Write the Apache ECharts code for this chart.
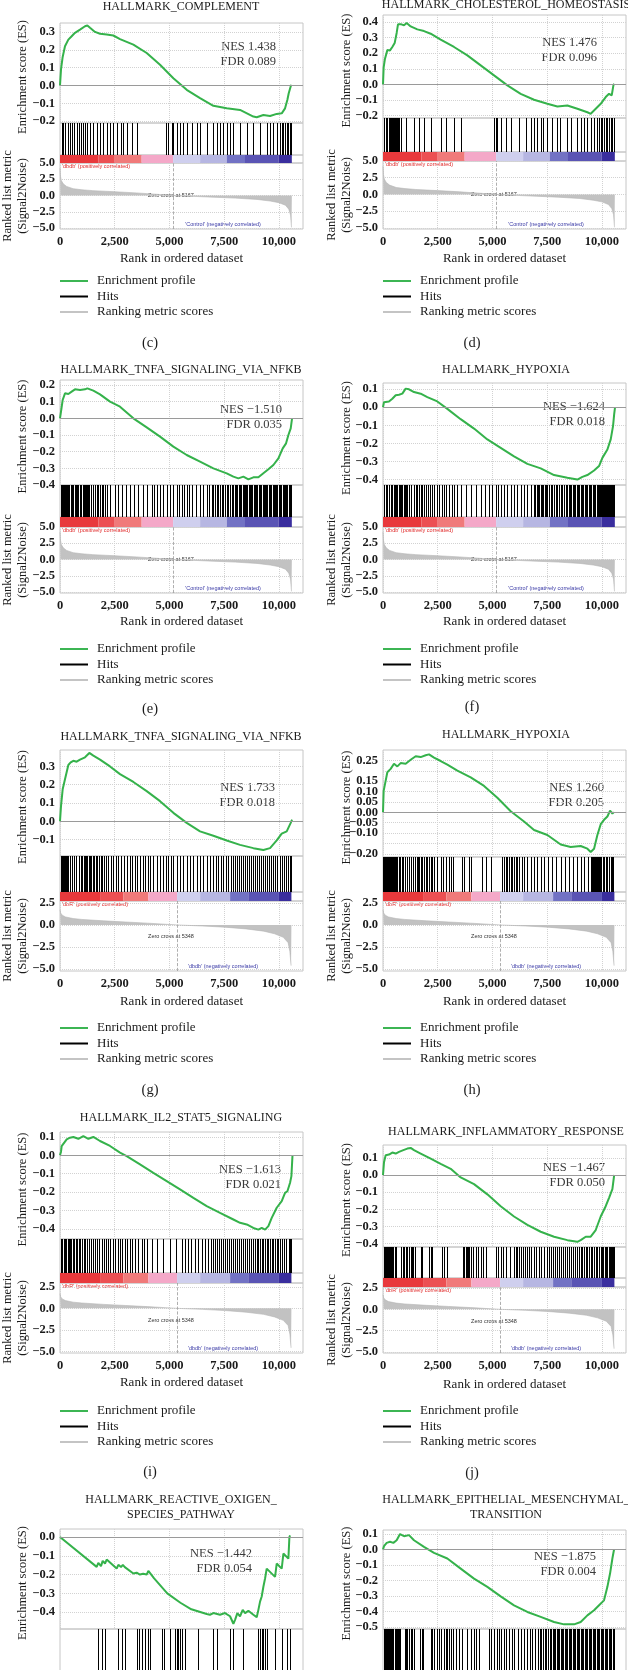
<!DOCTYPE html>
<html>
<head>
<meta charset="utf-8">
<script src="https://cdn.jsdelivr.net/npm/echarts@6/dist/echarts.min.js"></script>
<style>
    html, body { margin: 0; padding: 0; background: #fff; }
    #chart { width: 628px; height: 1670px; }
</style>
</head>
<body>
<div id="chart"></div>
<script>
const chart = echarts.init(document.getElementById("chart"), null, { renderer: "canvas" });

// ---------- data ----------
const xTicks = [0, 2500, 5000, 7500, 10000];
const legendNames = ["Enrichment profile", "Hits", "Ranking metric scores"];

const panelTitles = [
    ["HALLMARK_COMPLEMENT"],
    ["HALLMARK_CHOLESTEROL_HOMEOSTASIS"],
    ["HALLMARK_TNFA_SIGNALING_VIA_NFKB"],
    ["HALLMARK_HYPOXIA"],
    ["HALLMARK_TNFA_SIGNALING_VIA_NFKB"],
    ["HALLMARK_HYPOXIA"],
    ["HALLMARK_IL2_STAT5_SIGNALING"],
    ["HALLMARK_INFLAMMATORY_RESPONSE"],
    ["HALLMARK_REACTIVE_OXIGEN_", "SPECIES_PATHWAY"],
    ["HALLMARK_EPITHELIAL_MESENCHYMAL_", "TRANSITION"]
];
const panelLetters = ["(c)", "(d)", "(e)", "(f)", "(g)", "(h)", "(i)", "(j)"];
const nesValues = ["1.438", "1.476", "−1.510", "−1.624", "1.733", "1.260", "−1.613", "−1.467", "−1.442", "−1.875"];
const fdrValues = ["0.089", "0.096", "0.035", "0.018", "0.018", "0.205", "0.021", "0.050", "0.054", "0.004"];

// running enrichment score, [rank, ES]
const esC = [[0,0],[46,0.09],[122,0.16],[228,0.22],[381,0.257],[533,0.276],[685,0.295],[914,0.313],[1142,0.332],[1249,0.336],[1371,0.323],[1599,0.30],[1828,0.29],[2132,0.285],[2437,0.28],[2741,0.26],[3351,0.229],[3960,0.182],[4569,0.116],[5178,0.041],[5787,-0.024],[6397,-0.071],[7006,-0.114],[7615,-0.128],[8224,-0.137],[8833,-0.174],[8986,-0.178],[9290,-0.165],[9595,-0.171],[9899,-0.159],[10128,-0.156],[10280,-0.128],[10387,-0.08],[10448,-0.043],[10560,0.004]];
const esD = [[0,0],[30,0.11],[91,0.165],[198,0.22],[320,0.218],[426,0.24],[533,0.265],[624,0.33],[685,0.385],[838,0.385],[960,0.379],[1081,0.394],[1264,0.372],[1569,0.353],[1873,0.342],[2178,0.325],[2635,0.287],[3244,0.24],[3853,0.186],[4462,0.122],[5072,0.058],[5681,-0.006],[6290,-0.06],[6899,-0.098],[7508,-0.124],[7965,-0.141],[8422,-0.135],[8879,-0.156],[9336,-0.178],[9488,-0.188],[9717,-0.156],[9945,-0.124],[10173,-0.081],[10326,-0.06],[10448,-0.07],[10524,-0.006],[10560,0.004]];
const esE = [[0,0],[46,0.04],[122,0.11],[228,0.15],[381,0.146],[533,0.16],[685,0.174],[914,0.17],[1142,0.174],[1249,0.18],[1523,0.166],[1828,0.144],[2284,0.10],[2741,0.07],[3351,0.0],[3960,-0.054],[4569,-0.11],[5178,-0.17],[5787,-0.22],[6397,-0.26],[7006,-0.30],[7615,-0.33],[7920,-0.35],[8148,-0.36],[8377,-0.35],[8605,-0.366],[8833,-0.354],[9062,-0.354],[9290,-0.33],[9519,-0.306],[9747,-0.28],[9976,-0.24],[10174,-0.18],[10326,-0.15],[10433,-0.10],[10539,-0.06],[10600,0.0]];
const esF = [[0,0],[46,0.028],[122,0.038],[274,0.032],[426,0.047],[579,0.066],[731,0.069],[883,0.075],[1036,0.103],[1188,0.099],[1416,0.084],[1721,0.075],[2025,0.056],[2482,0.032],[2939,-0.009],[3548,-0.066],[4158,-0.118],[4767,-0.178],[5376,-0.225],[5985,-0.272],[6595,-0.313],[7204,-0.338],[7813,-0.375],[8422,-0.39],[8879,-0.40],[9108,-0.385],[9336,-0.375],[9641,-0.35],[9869,-0.325],[10021,-0.28],[10250,-0.234],[10402,-0.178],[10509,-0.103],[10560,-0.038],[10600,0.0]];
const esG = [[0,0],[46,0.083],[122,0.175],[228,0.23],[381,0.308],[487,0.322],[609,0.331],[761,0.326],[914,0.337],[1142,0.35],[1340,0.374],[1523,0.359],[1828,0.337],[2284,0.30],[2741,0.258],[3351,0.215],[3960,0.165],[4569,0.11],[5178,0.046],[5787,-0.009],[6397,-0.055],[7006,-0.079],[7615,-0.105],[8224,-0.129],[8833,-0.147],[9290,-0.157],[9595,-0.147],[9899,-0.105],[10128,-0.068],[10356,-0.055],[10539,-0.009],[10600,0.009]];
const esH = [[0,0],[30,0.103],[91,0.136],[198,0.193],[350,0.209],[503,0.234],[655,0.221],[807,0.237],[1036,0.234],[1264,0.253],[1493,0.27],[1721,0.266],[1949,0.275],[2102,0.279],[2330,0.263],[2635,0.247],[2939,0.23],[3396,0.201],[4006,0.168],[4615,0.127],[5224,0.07],[5833,0.005],[6442,-0.044],[6899,-0.085],[7508,-0.109],[8117,-0.155],[8574,-0.167],[9031,-0.162],[9336,-0.175],[9488,-0.191],[9641,-0.175],[9793,-0.109],[9945,-0.057],[10097,-0.036],[10250,-0.02],[10372,0.008],[10478,-0.006],[10540,0.0]];
const esI = [[0,0],[46,0.02],[76,0.05],[152,0.06],[305,0.087],[457,0.096],[609,0.10],[838,0.09],[1066,0.105],[1295,0.09],[1523,0.10],[1828,0.078],[2284,0.051],[2741,0.015],[3046,-0.004],[3655,-0.049],[4264,-0.095],[4874,-0.14],[5483,-0.185],[6092,-0.231],[6701,-0.276],[7310,-0.313],[7920,-0.349],[8224,-0.367],[8529,-0.376],[8833,-0.395],[9062,-0.404],[9214,-0.395],[9367,-0.404],[9519,-0.385],[9671,-0.34],[9899,-0.285],[10128,-0.249],[10280,-0.204],[10387,-0.195],[10509,-0.149],[10570,-0.113],[10620,0.0]];
const esJ = [[0,0],[46,0.075],[122,0.115],[274,0.119],[426,0.131],[579,0.125],[731,0.135],[929,0.145],[1112,0.154],[1264,0.158],[1416,0.145],[1721,0.125],[2178,0.095],[2635,0.065],[3092,0.036],[3548,-0.014],[4158,-0.053],[4767,-0.113],[5376,-0.182],[5985,-0.242],[6595,-0.291],[7204,-0.331],[7813,-0.36],[8422,-0.38],[8879,-0.39],[9031,-0.38],[9260,-0.36],[9488,-0.36],[9717,-0.321],[9945,-0.242],[10173,-0.182],[10326,-0.133],[10478,-0.083],[10560,0.0]];
const esK = [[0,0],[1675,-0.159],[1751,-0.138],[1873,-0.155],[1950,-0.127],[2056,-0.141],[2132,-0.12],[2589,-0.168],[2665,-0.148],[2787,-0.16],[2870,-0.148],[2960,-0.16],[3351,-0.194],[3500,-0.19],[3650,-0.2],[3800,-0.196],[3960,-0.2],[4036,-0.18],[4300,-0.22],[4900,-0.30],[5500,-0.35],[6000,-0.385],[6700,-0.41],[6850,-0.414],[7006,-0.405],[7310,-0.414],[7539,-0.405],[7767,-0.422],[7920,-0.462],[7996,-0.441],[8102,-0.405],[8224,-0.423],[8346,-0.388],[8453,-0.405],[8605,-0.393],[8833,-0.414],[8986,-0.427],[9062,-0.388],[9138,-0.344],[9214,-0.317],[9290,-0.265],[9367,-0.221],[9442,-0.168],[9823,-0.212],[9899,-0.141],[10128,-0.168],[10204,-0.088],[10433,-0.115],[10479,0.0],[10509,0.009]];
const esL = [[0,0],[46,0.022],[168,0.043],[320,0.05],[472,0.043],[624,0.06],[777,0.1],[960,0.086],[1188,0.093],[1416,0.06],[1873,0.017],[2330,-0.022],[2939,-0.058],[3548,-0.123],[4158,-0.188],[4767,-0.241],[5376,-0.302],[5985,-0.36],[6595,-0.403],[7204,-0.435],[7813,-0.468],[8270,-0.483],[8727,-0.483],[9031,-0.468],[9336,-0.425],[9641,-0.392],[9869,-0.36],[10097,-0.328],[10250,-0.241],[10371,-0.155],[10478,-0.058],[10554,0.0]];

// gene set hits (rank positions)
const hitsC = [80,150,240,350,460,530,640,760,850,960,1070,1140,1250,1370,1490,1680,1830,1980,2160,2280,2440,2620,2790,2890,3060,3270,3500,4850,4950,5100,5180,5330,5480,5640,5790,6020,6240,6400,6700,7000,7160,7310,7460,7620,7770,7920,8220,8530,8830,9140,9440,9600,9750,9900,10050,10130,10200,10280,10360,10430,10510,10550];
const hitsD = [46,122,198,260,320,380,426,470,503,540,563,600,624,660,685,746,838,1036,1416,1645,1873,2178,2635,2863,3244,3548,5072,5148,5224,5376,5605,5833,6214,6518,6747,6899,7051,7204,7300,7508,7700,7965,8100,8422,8600,8879,9031,9200,9336,9480,9640,9793,9870,9945,10020,10097,10170,10250,10320,10402,10478,10540];
const hitsE = [30,76,110,152,190,228,265,305,340,381,430,487,550,609,670,731,790,838,914,980,1036,1090,1142,1200,1249,1300,1340,1430,1523,1600,1675,1750,1828,1900,1980,2060,2132,2300,2513,2650,2818,3000,3198,3400,3579,3780,3960,4188,4300,4417,4580,4721,4870,5026,5180,5331,5450,5559,5680,5787,5900,6016,6200,6397,6550,6701,6820,6930,7010,7082,7160,7234,7310,7387,7460,7539,7615,7691,7770,7844,7920,7996,8050,8102,8160,8224,8290,8346,8400,8453,8510,8559,8620,8681,8730,8788,8850,8910,8960,9016,9080,9138,9200,9260,9310,9367,9420,9473,9530,9595,9650,9717,9770,9823,9880,9930,9990,10052,10110,10174,10230,10280,10340,10387,10450,10509,10560];
const hitsF = [50,122,200,274,350,426,480,533,600,655,720,777,830,883,940,990,1050,1112,1200,1295,1400,1493,1570,1645,1720,1797,1870,1949,2050,2147,2250,2330,2450,2559,2680,2787,2900,3015,3130,3244,3400,3548,3780,4006,4230,4462,4650,4843,5000,5148,5260,5376,5530,5681,5830,5985,6140,6290,6440,6595,6750,6899,6960,7021,7080,7143,7200,7265,7330,7387,7450,7508,7580,7660,7740,7813,7890,7965,8040,8117,8190,8270,8350,8422,8480,8544,8600,8666,8730,8788,8850,8909,8970,9031,9090,9153,9210,9275,9340,9397,9460,9519,9580,9641,9700,9762,9815,9869,9920,9976,10020,10067,10110,10158,10200,10250,10295,10341,10385,10432,10475,10523,10560];
const hitsG = [46,91,137,183,228,274,320,365,457,548,640,731,853,975,1000,1097,1150,1188,1250,1310,1370,1432,1490,1553,1630,1706,1780,1858,1930,2010,2100,2208,2320,2437,2550,2665,2800,2924,3060,3198,3310,3427,3540,3655,3770,3884,4000,4112,4260,4417,4570,4721,4830,4950,5060,5178,5330,5483,5630,5787,5940,6092,6240,6397,6550,6701,6850,7006,7120,7234,7350,7463,7580,7691,7800,7920,8010,8102,8190,8285,8375,8468,8560,8651,8740,8833,8925,9016,9110,9199,9290,9382,9470,9564,9655,9747,9840,9930,10030,10128,10230,10326,10420,10509,10570];
const hitsH = [20,46,76,107,137,168,198,228,259,289,320,350,396,442,490,533,590,655,715,777,850,929,1020,1112,1200,1295,1390,1477,1540,1599,1660,1721,1800,1873,1950,2025,2100,2178,2250,2330,2480,2635,2750,2863,3000,3092,3200,3625,3700,3929,4000,4539,4700,4919,5452,5530,5605,5680,5757,5830,5909,5990,6062,6140,6214,6330,6442,6600,6747,6900,7051,7200,7356,7550,7737,7900,8117,8300,8498,8700,8879,9050,9184,9350,9519,9560,9610,9655,9701,9745,9793,9840,9884,9930,9976,10040,10097,10170,10250,10330,10402,10460,10523];
const hitsI = [50,107,170,228,290,350,400,457,520,579,650,731,790,853,930,1005,1080,1157,1250,1340,1430,1523,1610,1706,1800,1904,2000,2102,2190,2284,2400,2513,2630,2741,2850,2970,3080,3198,3310,3427,3580,3731,3850,3960,4200,4417,4700,5026,5300,5559,5700,5863,6000,6168,6320,6473,6620,6777,6900,7006,7100,7188,7280,7371,7460,7554,7640,7737,7830,7920,8010,8102,8190,8285,8380,8468,8560,8651,8740,8833,8910,8986,9060,9138,9210,9290,9370,9442,9520,9595,9670,9747,9820,9899,9975,10052,10140,10235,10340,10448,10510,10560];
const hitsJ = [30,76,120,168,210,259,300,350,420,472,530,594,838,900,960,1040,1112,1190,1264,1330,1386,1450,1751,1800,2102,2170,2254,2711,2800,2909,3670,3720,3777,3830,3884,3950,4006,4120,4234,4350,4462,4580,4691,5148,5260,5376,5490,5605,5800,5985,6060,6138,6210,6290,6380,6473,6570,6671,6780,6899,7010,7128,7240,7356,7470,7584,7680,7782,7870,7965,8060,8148,8240,8331,8420,8514,8600,8696,8790,8879,8950,9031,9110,9184,9260,9336,9410,9488,9560,9641,9720,9793,9870,9945,10000,10067,10130,10189,10250,10311,10370,10432,10480,10523,10560];
const hitsK = [1751,1904,2056,2665,2818,2970,3503,3625,3731,3884,4036,4112,4645,4752,5026,5254,5331,5407,5483,5559,5711,6320,7006,7158,7767,7920,8377,9062,9138,9214,9290,9367,9442,9823,10128,10356,10509];
const hitsL = [30,76,120,168,215,259,320,381,425,472,530,579,630,685,730,777,990,1050,1112,1190,1264,1340,1416,1690,1760,1843,2178,2250,2330,2482,2560,2635,2787,2860,2939,3030,3122,3220,3320,3470,3625,3853,4000,4158,4270,4386,4843,4950,5072,5190,5300,5410,5528,5640,5757,5870,5985,6150,6320,6450,6595,6710,6823,6950,7082,7160,7234,7310,7387,7460,7539,7615,7691,7750,7813,7875,7935,7995,8057,8120,8178,8240,8300,8360,8422,8480,8544,8605,8666,8725,8788,8850,8909,8970,9031,9090,9153,9215,9275,9335,9397,9460,9519,9580,9641,9700,9762,9820,9884,9945,10006,10065,10128,10190,10250,10310,10371,10430,10493,10550];

// ranked list metric (Signal2Noise), two comparisons
const metricA = [[0,4.2],[20,3.0],[60,2.3],[150,1.8],[300,1.4],[600,1.05],[1000,0.88],[1500,0.75],[2500,0.58],[3500,0.4],[4500,0.17],[5167,0],[6000,-0.12],[7000,-0.26],[8000,-0.4],[9000,-0.6],[9600,-0.85],[10000,-1.1],[10300,-1.5],[10450,-2.1],[10530,-3.0],[10575,-4.9],[10590,-4.9]];
const metricB = [[0,1.7],[30,1.35],[100,1.1],[250,0.9],[600,0.72],[1000,0.62],[2000,0.46],[3000,0.33],[4000,0.2],[4800,0.08],[5348,0],[6500,-0.12],[7500,-0.25],[8500,-0.45],[9300,-0.7],[9800,-1.0],[10200,-1.4],[10420,-2.0],[10500,-3.0],[10555,-4.6],[10570,-4.6]];
const zeroCross = [5167, 5348];
const posLabels = ["'dbdb' (positively correlated)", "'dbR' (positively correlated)"];
const negLabels = ["'Control' (negatively correlated)", "'dbdb' (negatively correlated)"];
const bandEdgesA = [0, 1750, 2500, 3730, 5167, 6400, 7620, 8450, 9980, 10590];
const bandEdgesB = [0, 1830, 2900, 4040, 5348, 6400, 7770, 8600, 10000, 10570];
const bandColors = ["#e8393c", "#ec5053", "#f07a7a", "#f4a8c8", "#cfcfee", "#b6b6e2", "#7272c4", "#5a54b4", "#3a2e9e"];

// axis ranges and ticks of each panel
const esExtents = [[-0.21,0.35],[-0.215,0.445],[-0.4,0.23],[-0.43,0.134],[-0.19,0.39],[-0.215,0.30],[-0.455,0.127],[-0.42,0.175],[-0.49,0.043],[-0.513,0.126]];
const esTicks = [
    [-0.2,-0.1,0,0.1,0.2,0.3],
    [-0.2,-0.1,0,0.1,0.2,0.3,0.4],
    [-0.4,-0.3,-0.2,-0.1,0,0.1,0.2],
    [-0.4,-0.3,-0.2,-0.1,0,0.1],
    [-0.1,0,0.1,0.2,0.3],
    [-0.2,-0.15,-0.1,-0.05,0,0.05,0.1,0.15,0.2,0.25],
    [-0.4,-0.3,-0.2,-0.1,0,0.1],
    [-0.4,-0.3,-0.2,-0.1,0,0.1],
    [-0.4,-0.3,-0.2,-0.1,0],
    [-0.5,-0.4,-0.3,-0.2,-0.1,0,0.1]
];
const esDecimals = [1,1,1,1,1,2,1,1,1,1];
const rankExtents = [[-5.15,5],[-5.15,5],[-5.15,5],[-5.15,5],[-5.2,2.7],[-5.2,2.7],[-5.2,2.95],[-5.1,2.6]];
const rankTicksA = [-5, -2.5, 0, 2.5, 5];
const rankTicksB = [-5, -2.5, 0, 2.5];

const esCurves = [esC, esD, esE, esF, esG, esH, esI, esJ, esK, esL];
const hitSets = [hitsC, hitsD, hitsE, hitsF, hitsG, hitsH, hitsI, hitsJ, hitsK, hitsL];

// ---------- layout (pixels) ----------
const X_MAX = 11100;
const PLOT_W = 243;
const colLeft = [60, 383];
const titleCx = [181, 506];
const letterCx = [150, 472];
const esNameX = [23, 347];
const rankNameX = [15.5, 339.5];
const layouts = [
    { col: 0, titleY: 7,    esTop: 23,   esBot: 123,  hitsBot: 155,  cbarBot: 163,  rankBot: 229,  xTitleY: 259,  legendY: 281,  letterY: 343,  nesX: 276, nesY: 47 },
    { col: 1, titleY: 5,    esTop: 15,   esBot: 118,  hitsBot: 152,  cbarBot: 161,  rankBot: 229,  xTitleY: 259,  legendY: 281,  letterY: 343,  nesX: 597, nesY: 43 },
    { col: 0, titleY: 370,  esTop: 380,  esBot: 485,  hitsBot: 517,  cbarBot: 527,  rankBot: 593,  xTitleY: 622,  legendY: 649,  letterY: 709,  nesX: 282, nesY: 410 },
    { col: 1, titleY: 370,  esTop: 383,  esBot: 485,  hitsBot: 517,  cbarBot: 527,  rankBot: 593,  xTitleY: 622,  legendY: 649,  letterY: 707,  nesX: 605, nesY: 407 },
    { col: 0, titleY: 737,  esTop: 750,  esBot: 856,  hitsBot: 892,  cbarBot: 901,  rankBot: 971,  xTitleY: 1002, legendY: 1028, letterY: 1090, nesX: 275, nesY: 788 },
    { col: 1, titleY: 735,  esTop: 750,  esBot: 857,  hitsBot: 892,  cbarBot: 901,  rankBot: 971,  xTitleY: 1002, legendY: 1028, letterY: 1090, nesX: 604, nesY: 788 },
    { col: 0, titleY: 1118, esTop: 1132, esBot: 1239, hitsBot: 1273, cbarBot: 1283, rankBot: 1353, xTitleY: 1383, legendY: 1411, letterY: 1472, nesX: 281, nesY: 1170 },
    { col: 1, titleY: 1132, esTop: 1145, esBot: 1247, hitsBot: 1278, cbarBot: 1287, rankBot: 1353, xTitleY: 1385, legendY: 1411, letterY: 1473, nesX: 605, nesY: 1168 },
    { col: 0, titleY: 1500, esTop: 1529, esBot: 1629, hitsBot: 1672, nesX: 252, nesY: 1554 },
    { col: 1, titleY: 1500, esTop: 1530, esBot: 1629, hitsBot: 1672, nesX: 596, nesY: 1557 }
];

const SERIF = '"Liberation Serif", "DejaVu Serif", serif';
const SANS = '"Liberation Sans", Arial, sans-serif';
const GREEN = "#35b24b";

function signed(v, dec) {
    return (v < 0 ? "−" : "") + Math.abs(v).toFixed(dec);
}
function thousands(v) {
    return String(v).replace(/\B(?=(\d{3})+(?!\d))/g, ",");
}

const grids = [], xAxes = [], yAxes = [], series = [], legends = [], texts = [];

function addCartesian(left, top, bottom, ext, opt) {
    const gi = grids.length;
    grids.push({
        left: left, top: top, width: PLOT_W, height: bottom - top,
        show: true, borderColor: "#c6c6c6", borderWidth: 1,
        outerBoundsMode: "none"
    });
    xAxes.push({
        gridIndex: gi, type: "value", min: 0, max: X_MAX,
        axisLine: { show: false },
        axisTick: { show: false, customValues: xTicks },
        axisLabel: {
            show: !!opt.xLabels, customValues: xTicks, margin: 6, interval: 0,
            fontFamily: SERIF, fontSize: 12.5, fontWeight: "bold", color: "#1a1a1a",
            formatter: v => thousands(v)
        },
        splitLine: { show: !!opt.ticks, lineStyle: { color: "#d2d2d2", type: "dotted", width: 1 } }
    });
    yAxes.push({
        gridIndex: gi, type: "value", min: ext[0], max: ext[1],
        axisLine: { show: false },
        axisTick: { show: false, customValues: opt.ticks },
        axisLabel: {
            show: !!opt.ticks, customValues: opt.ticks, margin: 5, interval: 0,
            hideOverlap: false, showMinLabel: true, showMaxLabel: true, lineHeight: 9,
            fontFamily: SERIF, fontSize: 12.5, fontWeight: "bold", color: "#1a1a1a",
            formatter: v => signed(v, opt.dec)
        },
        splitLine: { show: !!opt.ticks, lineStyle: { color: "#d2d2d2", type: "dotted", width: 1 } }
    });
    return gi;
}

function renderHit(params, api) {
    const p = api.coord([api.value(0), 0]);
    const cs = params.coordSys;
    const x = Math.round(p[0]) + 0.5;
    return {
        type: "line",
        shape: { x1: x, y1: cs.y, x2: x, y2: cs.y + cs.height },
        style: { stroke: "#000", lineWidth: 1 }
    };
}

function renderBand(params, api) {
    const a = api.coord([api.value(0), 0]);
    const b = api.coord([api.value(1), 0]);
    const cs = params.coordSys;
    return {
        type: "rect",
        shape: { x: a[0], y: cs.y, width: b[0] - a[0], height: cs.height },
        style: { fill: bandColors[api.value(2)] }
    };
}

function addText(x, y, text, style, extra) {
    texts.push(Object.assign({
        type: "text", x: x, y: y, silent: true,
        style: Object.assign({
            text: text, fontFamily: SERIF, fontSize: 12, fill: "#1a1a1a",
            align: "center", verticalAlign: "middle",
            textAlign: "center", textVerticalAlign: "middle"
        }, style || {})
    }, extra || {}));
}

layouts.forEach((L, i) => {
    const left = colLeft[L.col];
    const cx = left + PLOT_W / 2;
    const full = L.rankBot !== undefined;
    const setIdx = i < 4 ? 0 : 1;

    // titles
    panelTitles[i].forEach((line, k) => addText(titleCx[L.col], L.titleY + k * 15, line, { fontSize: 12 }));

    // enrichment score panel
    const gEs = addCartesian(left, L.esTop, L.esBot, esExtents[i], { ticks: esTicks[i], dec: esDecimals[i] });
    series.push({
        name: legendNames[0], type: "line", xAxisIndex: gEs, yAxisIndex: gEs,
        data: esCurves[i], symbol: "none", showSymbol: false, z: 4,
        lineStyle: { color: GREEN, width: 2 }, itemStyle: { color: GREEN },
        markLine: {
            silent: true, symbol: "none", label: { show: false },
            lineStyle: { color: "#9a9a9a", type: "solid", width: 1 },
            data: [{ yAxis: 0 }]
        }
    });
    addText(esNameX[L.col], (L.esTop + L.esBot) / 2 + 4, "Enrichment score (ES)", { fontSize: 12.5 }, { rotation: Math.PI / 2 });
    addText(L.nesX, L.nesY, "NES " + nesValues[i], { align: "right", textAlign: "right", fill: "#3a3a3a", fontSize: 12.5 });
    addText(L.nesX, L.nesY + 15, "FDR " + fdrValues[i], { align: "right", textAlign: "right", fill: "#3a3a3a", fontSize: 12.5 });

    // hits
    const gHits = addCartesian(left, L.esBot, L.hitsBot, [0, 1], {});
    series.push({
        name: legendNames[1], type: "custom", xAxisIndex: gHits, yAxisIndex: gHits,
        data: hitSets[i].map(h => [h, 0]), renderItem: renderHit,
        itemStyle: { color: "#000" }, silent: true
    });

    if (!full) return;

    // colour bar
    const edges = setIdx === 0 ? bandEdgesA : bandEdgesB;
    const gBar = addCartesian(left, L.hitsBot, L.cbarBot, [0, 1], {});
    series.push({
        name: "bar", type: "custom", xAxisIndex: gBar, yAxisIndex: gBar,
        data: edges.slice(0, -1).map((e, k) => [e, edges[k + 1], k]),
        renderItem: renderBand, silent: true
    });

    // ranked list metric
    const rExt = rankExtents[i];
    const gRank = addCartesian(left, L.cbarBot, L.rankBot, rExt, {
        ticks: setIdx === 0 ? rankTicksA : rankTicksB, dec: 1, xLabels: true
    });
    series.push({
        name: legendNames[2], type: "line", xAxisIndex: gRank, yAxisIndex: gRank,
        data: setIdx === 0 ? metricA : metricB, symbol: "none", showSymbol: false,
        lineStyle: { color: "#b5b5b5", width: 0.6 }, itemStyle: { color: "#c0c0c0" },
        areaStyle: { color: "#c2c2c2", opacity: 1 },
        markLine: {
            silent: true, symbol: "none", label: { show: false },
            lineStyle: { color: "#9a9a9a", type: "dashed", width: 0.8 },
            data: [{ xAxis: zeroCross[setIdx] }]
        }
    });
    const rh = L.rankBot - L.cbarBot;
    const zeroY = L.cbarBot + rExt[1] / (rExt[1] - rExt[0]) * rh;
    addText(left + 2, L.cbarBot + 3.5, posLabels[setIdx],
        { fontFamily: SANS, fontSize: 5.5, fill: "#e02a2a", align: "left", textAlign: "left" });
    addText(left + 111, zeroY + (setIdx === 0 ? 0 : 12), "Zero cross at " + zeroCross[setIdx],
        { fontFamily: SANS, fontSize: 5.5, fill: "#333" });
    addText(left + 163, L.rankBot - 5, negLabels[setIdx],
        { fontFamily: SANS, fontSize: 5.5, fill: "#3a3aa6" });
    addText(rankNameX[L.col], (L.cbarBot + L.rankBot) / 2, "Ranked list metric\n(Signal2Noise)",
        { fontSize: 12.5, lineHeight: 15 }, { rotation: Math.PI / 2 });

    addText(cx, L.xTitleY, "Rank in ordered dataset", { fontSize: 13 });
    addText(letterCx[L.col], L.letterY, panelLetters[i], { fontSize: 14.5 });

    legends.push({
        orient: "vertical", left: left, top: L.legendY - 7.5, padding: 0,
        itemWidth: 28, itemHeight: 2, itemGap: 0.5, icon: "rect", selectedMode: false,
        textStyle: { fontFamily: SERIF, fontSize: 13, color: "#1a1a1a", lineHeight: 15, padding: [0, 0, 0, 4] },
        data: [
            { name: legendNames[0], itemStyle: { color: "#3cb553" } },
            { name: legendNames[1], itemStyle: { color: "#000" } },
            { name: legendNames[2], itemStyle: { color: "#c4c4c4" } }
        ]
    });
});

chart.setOption({
    animation: false,
    backgroundColor: "#fff",
    grid: grids,
    xAxis: xAxes,
    yAxis: yAxes,
    legend: legends,
    series: series,
    graphic: { elements: texts }
});
</script>
</body>
</html>
